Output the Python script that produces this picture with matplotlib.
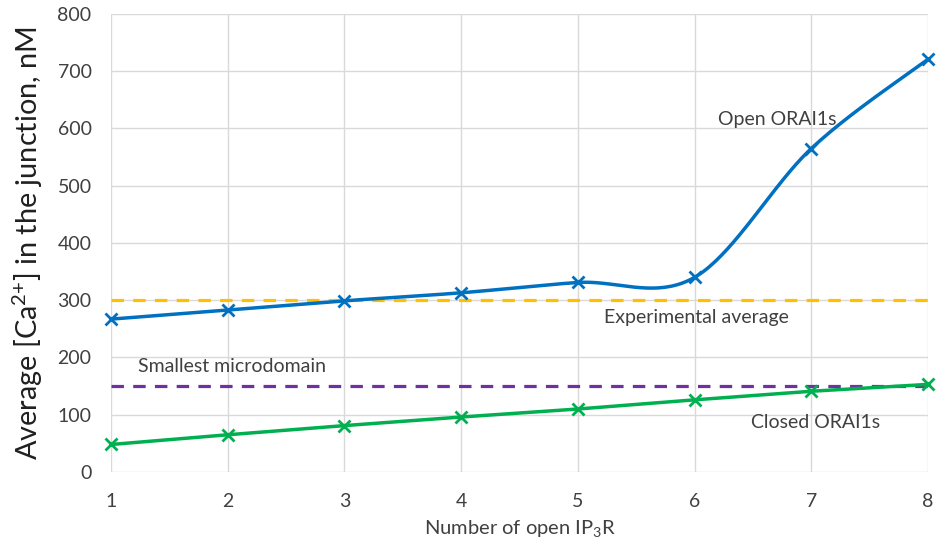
import numpy as np
import matplotlib
matplotlib.use("Agg")
import matplotlib.pyplot as plt

plt.rcParams['font.family'] = ['Lato', 'DejaVu Sans']
plt.rcParams['mathtext.default'] = 'regular'

n_ip3r = [1, 2, 3, 4, 5, 6, 7, 8]
open_orai = [267, 283, 299, 313, 331, 340, 565, 721]
closed_orai = [48, 65, 81, 96, 110, 126, 141, 153]
experimental_avg = 300
smallest_micro = 150
x_ticks = [1, 2, 3, 4, 5, 6, 7, 8]
y_ticks = [0, 100, 200, 300, 400, 500, 600, 700, 800]

BLUE = '#0070C0'
GREEN = '#00B050'
YELLOW = '#FFC000'
PURPLE = '#7030A0'
GRID = '#D9D9D9'
TXT = '#404040'


def smooth_curve(x, y, steps=40):
    # Catmull-Rom style Bezier smoothing (like spreadsheet "smoothed line")
    x = np.asarray(x, float)
    y = np.asarray(y, float)
    xs, ys = [], []
    n = len(x)
    for i in range(n - 1):
        p0 = (x[max(i - 1, 0)], y[max(i - 1, 0)])
        p1 = (x[i], y[i])
        p2 = (x[i + 1], y[i + 1])
        p3 = (x[min(i + 2, n - 1)], y[min(i + 2, n - 1)])
        c1 = (p1[0] + (p2[0] - p0[0]) / 6, p1[1] + (p2[1] - p0[1]) / 6)
        c2 = (p2[0] - (p3[0] - p1[0]) / 6, p2[1] - (p3[1] - p1[1]) / 6)
        t = np.linspace(0, 1, steps)
        bx = ((1 - t) ** 3 * p1[0] + 3 * (1 - t) ** 2 * t * c1[0]
              + 3 * (1 - t) * t ** 2 * c2[0] + t ** 3 * p2[0])
        by = ((1 - t) ** 3 * p1[1] + 3 * (1 - t) ** 2 * t * c1[1]
              + 3 * (1 - t) * t ** 2 * c2[1] + t ** 3 * p2[1])
        xs.extend(bx)
        ys.extend(by)
    return np.array(xs), np.array(ys)


fig = plt.figure(figsize=(9.45, 5.49), dpi=100)
ax = fig.add_axes([0.1175, 0.1403, 0.8645, 0.8342])

ax.set_xlim(1, 8)
ax.set_ylim(0, 800)
ax.set_xticks(x_ticks)
ax.set_yticks(y_ticks)
ax.grid(True, color=GRID, linewidth=1.0)
ax.set_axisbelow(True)
for s in ax.spines.values():
    s.set_visible(False)
ax.tick_params(length=0, labelsize=14, colors=TXT)
ax.tick_params(axis='y', pad=14)
ax.tick_params(axis='x', pad=15)

ax.axhline(experimental_avg, color=YELLOW, linewidth=2.3, dashes=(3.9, 2.9), zorder=2)
ax.axhline(smallest_micro, color=PURPLE, linewidth=2.3, dashes=(3.9, 2.9), zorder=2)

sx, sy = smooth_curve(n_ip3r, open_orai)
ax.plot(sx, sy, color=BLUE, linewidth=2.5, zorder=3, clip_on=False,
        solid_capstyle='round')
ax.plot(n_ip3r, open_orai, linestyle='none', marker='x', markersize=9,
        markeredgewidth=2, color=BLUE, zorder=4, clip_on=False)
ax.plot(n_ip3r, closed_orai, color=GREEN, linewidth=2.5, marker='x',
        markersize=9, markeredgewidth=2, zorder=4, clip_on=False)

ax.text(6.20, 615, 'Open ORAI1s', fontsize=14, color=TXT, va='center')
ax.text(5.22, 269, 'Experimental average', fontsize=14, color=TXT, va='center')
ax.text(1.23, 185, 'Smallest microdomain', fontsize=14, color=TXT, va='center')
ax.text(6.48, 86, 'Closed ORAI1s', fontsize=14, color=TXT, va='center')

ax.set_xlabel('Number of open IP$_3$R', fontsize=14.5, color=TXT, labelpad=6)
ax.set_ylabel('Average [Ca$^{2{+}}$] in the junction, nM', fontsize=20.8,
              color='#202020', labelpad=9)

fig.savefig('out.png', dpi=100)
